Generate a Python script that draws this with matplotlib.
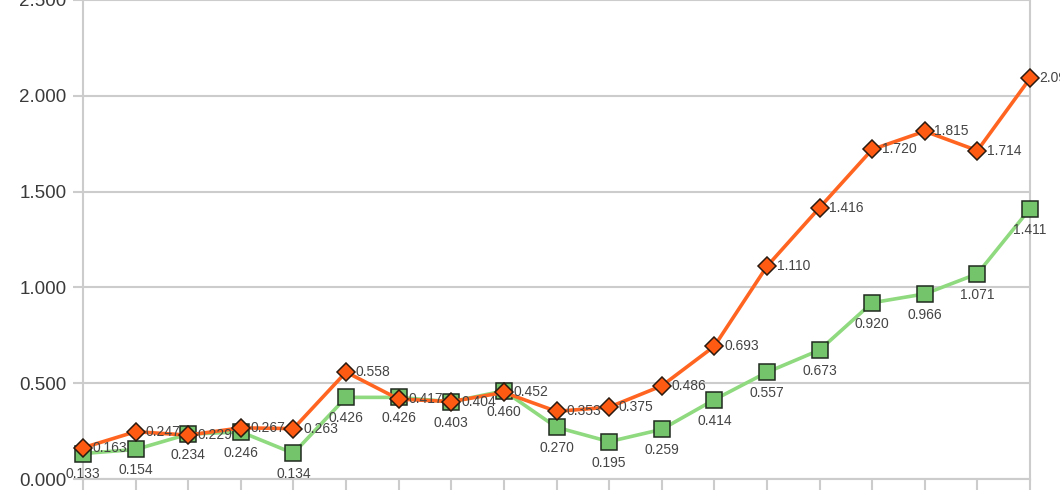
import numpy as np
import matplotlib.pyplot as plt

plt.rcParams['font.family'] = ['Liberation Sans', 'DejaVu Sans']

# values (19 periods)
orange_vals = [0.163, 0.247, 0.229, 0.267, 0.263, 0.558, 0.417, 0.404, 0.452, 0.353,
               0.375, 0.486, 0.693, 1.110, 1.416, 1.720, 1.815, 1.714, 2.091]
green_vals = [0.133, 0.154, 0.234, 0.246, 0.134, 0.426, 0.426, 0.403, 0.460, 0.270,
              0.195, 0.259, 0.414, 0.557, 0.673, 0.920, 0.966, 1.071, 1.411]
y_ticks = [0.0, 0.5, 1.0, 1.5, 2.0, 2.5]

x = np.arange(len(orange_vals))

fig = plt.figure(figsize=(10.6, 4.98), dpi=100)
ax = fig.add_axes([83 / 1060, 19 / 498, (1030 - 83) / 1060, 479 / 498])

grid_c = '#cccccc'
ax.set_xlim(0, len(x) - 1)
ax.set_ylim(0, 2.5)
ax.set_yticks(y_ticks)
ax.set_yticklabels([f'{v:.3f}' for v in y_ticks])
ax.set_xticks(x)
ax.set_xticklabels([])
ax.yaxis.grid(True, color=grid_c, linewidth=1.5)
ax.set_axisbelow(True)
ax.tick_params(axis='y', length=7, width=1.5, color=grid_c, pad=5,
               labelsize=13.5, labelcolor='#3a3a3a')
ax.tick_params(axis='x', direction='out', length=8, width=1.5, color=grid_c)
for side in ['left', 'right', 'bottom']:
    ax.spines[side].set_color(grid_c)
    ax.spines[side].set_linewidth(1.5)
ax.spines['top'].set_visible(False)

ax.plot(x, green_vals, color='#8fd97f', linewidth=2.6, marker='s', markersize=11.5,
        markerfacecolor='#74c46c', markeredgecolor='#1f2a1f', markeredgewidth=1.1,
        zorder=3, clip_on=False)
ax.plot(x, orange_vals, color='#ff6521', linewidth=2.6, marker='D', markersize=9.5,
        markerfacecolor='#ff5a12', markeredgecolor='#2a1a10', markeredgewidth=1.1,
        zorder=4, clip_on=False)

for xi, v in zip(x, green_vals):
    ax.annotate(f'{v:.3f}', (xi, v), xytext=(0, -10), textcoords='offset points',
                ha='center', va='top', fontsize=10, color='#444444', zorder=5,
                annotation_clip=False)
for xi, v in zip(x, orange_vals):
    ax.annotate(f'{v:.3f}', (xi, v), xytext=(7, 0), textcoords='offset points',
                ha='left', va='center', fontsize=10, color='#444444', zorder=5,
                annotation_clip=False)

fig.savefig('out.png', dpi=100)
